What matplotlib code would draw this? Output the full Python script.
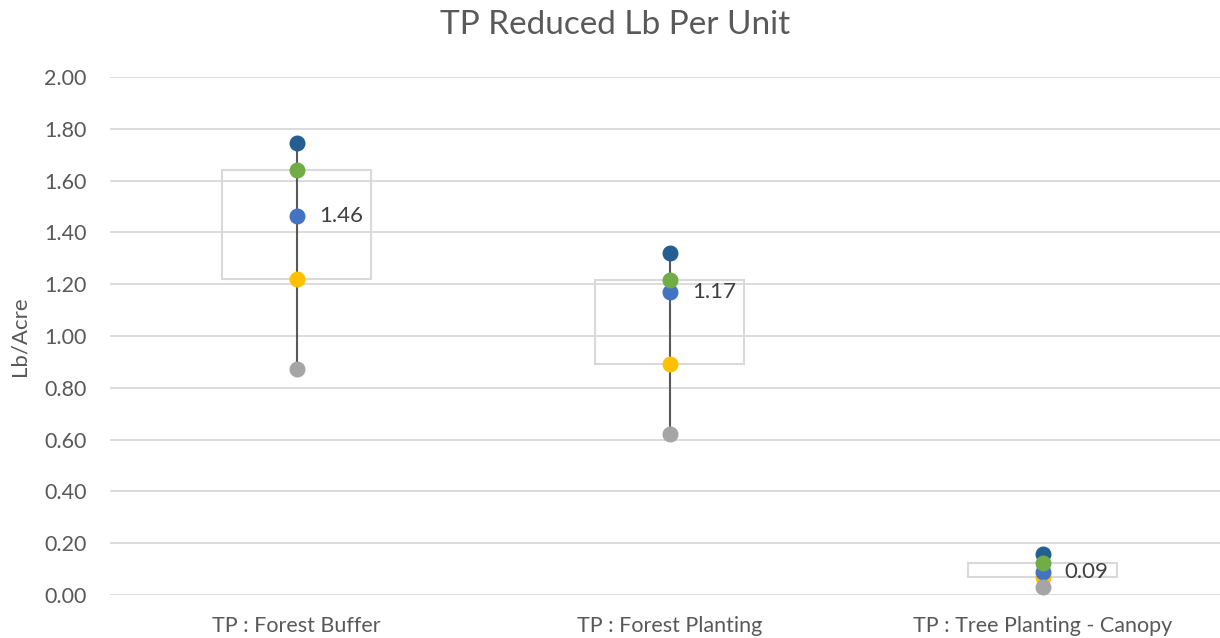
import numpy as np
import matplotlib
matplotlib.use("Agg")
import matplotlib.pyplot as plt
from matplotlib.patches import Rectangle

categories = ["TP : Forest Buffer", "TP : Forest Planting", "TP : Tree Planting - Canopy"]
max_vals = [1.745, 1.322, 0.160]
q3_vals = [1.640, 1.217, 0.123]
mean_vals = [1.465, 1.170, 0.090]
q1_vals = [1.220, 0.893, 0.070]
min_vals = [0.873, 0.620, 0.030]
mean_labels = ["1.46", "1.17", "0.09"]
yticks = [0.0, 0.2, 0.4, 0.6, 0.8, 1.0, 1.2, 1.4, 1.6, 1.8, 2.0]

plt.rcParams['font.family'] = ['Lato', 'DejaVu Sans']
txt = '#595959'
grid = '#d9d9d9'

fig = plt.figure(figsize=(12.2, 6.38), dpi=100)
ax = fig.add_axes([110 / 1220, 43 / 638, 1110 / 1220, 518 / 638])

x = np.arange(len(categories))
ax.set_xlim(-0.5, -0.5 + 1110 / 373)
ax.set_ylim(0, 2.0)

for v in yticks:
    ax.axhline(v, color=grid, lw=1.3, zorder=0)

# boxes between q1 and q3
for i in x:
    ax.add_patch(Rectangle((i - 0.2, q1_vals[i]), 0.4, q3_vals[i] - q1_vals[i],
                           fill=False, edgecolor=grid, lw=1.5, zorder=1))
    ax.plot([i, i], [min_vals[i], max_vals[i]], color=txt, lw=1.5, zorder=2)

# draw order as in the original (later ones sit on top)
series = [(max_vals, '#255e91'), (q1_vals, '#ffc000'), (mean_vals, '#4472c4'),
          (q3_vals, '#70ad47'), (min_vals, '#a5a5a5')]
for vals, col in series:
    ax.plot(x, vals, 'o', color=col, ms=10.5, ls='none', zorder=3)

for i in x:
    ax.annotate(mean_labels[i], (i, mean_vals[i]), xytext=(16, 0),
                textcoords='offset points', va='center', ha='left',
                fontsize=16, color='#404040')

ax.set_yticks(yticks)
ax.set_yticklabels([f"{v:.2f}" for v in yticks])
ax.set_xticks(x)
ax.set_xticklabels(categories)
ax.tick_params(axis='both', length=0, labelsize=15.5, colors=txt)
ax.tick_params(axis='y', pad=17)
ax.tick_params(axis='x', pad=15)
for s in ax.spines.values():
    s.set_visible(False)

ax.set_ylabel("Lb/Acre", fontsize=16, color=txt, labelpad=10)
fig.suptitle("TP Reduced Lb Per Unit", fontsize=24, color=txt, x=615 / 1220, y=0.984, va='top')

fig.savefig("out.png", dpi=100)
